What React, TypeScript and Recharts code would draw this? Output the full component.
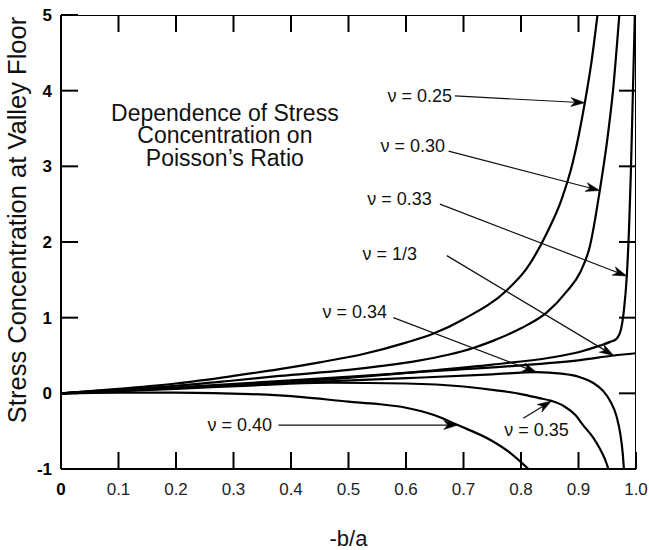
import React from 'react';
import { LineChart, Line, XAxis, YAxis, ReferenceLine, ReferenceDot } from 'recharts';

type Pt = { x: number; y: number };
const toPts = (rows: number[][]): Pt[] => rows.map(([x, y]) => ({ x, y }));

const FONT = '"Liberation Sans", Arial, Helvetica, sans-serif';

// Axis ticks and ranges
const xTicks = [0, 0.1, 0.2, 0.3, 0.4, 0.5, 0.6, 0.7, 0.8, 0.9, 1.0];
const yTicks = [-1, 0, 1, 2, 3, 4, 5];
const xMin = 0;
const xMax = 1.0;
const yMin = -1;
const yMax = 5;

// Stress concentration vs -b/a, one curve per Poisson's ratio
const nu025 = toPts([
  [0, 0], [0.1, 0.06], [0.2, 0.13], [0.3, 0.23], [0.38, 0.32], [0.45, 0.41],
  [0.526, 0.52], [0.6, 0.67], [0.648, 0.79], [0.7, 0.98], [0.775, 1.36],
  [0.81, 1.65], [0.845, 2.12], [0.87, 2.55], [0.89, 3.05], [0.911, 3.84],
  [0.922, 4.35], [0.933, 5.0],
]);

const nu030 = toPts([
  [0, 0], [0.1, 0.05], [0.2, 0.1], [0.3, 0.17], [0.38, 0.23], [0.5, 0.31],
  [0.555, 0.36], [0.62, 0.43], [0.717, 0.6], [0.75, 0.69], [0.8, 0.86],
  [0.845, 1.07], [0.88, 1.35], [0.903, 1.6], [0.92, 1.95], [0.937, 2.68],
  [0.95, 3.35], [0.96, 4.0], [0.971, 5.0],
]);

const nu033 = toPts([
  [0, 0], [0.2, 0.07], [0.4, 0.15], [0.6, 0.27], [0.75, 0.38], [0.85, 0.47],
  [0.903, 0.55], [0.937, 0.63], [0.955, 0.68], [0.966, 0.72], [0.974, 0.85],
  [0.979, 1.1], [0.984, 1.55], [0.988, 2.2], [0.991, 2.9], [0.994, 3.8],
  [0.998, 5.0],
]);

const nuThird = toPts([
  [0, 0], [0.2, 0.08], [0.4, 0.17], [0.6, 0.27], [0.8, 0.37], [0.903, 0.44],
  [0.961, 0.5], [1.0, 0.53],
]);

const nu034 = toPts([
  [0, 0], [0.2, 0.07], [0.4, 0.14], [0.6, 0.2], [0.75, 0.25], [0.827, 0.28],
  [0.87, 0.26], [0.9, 0.22], [0.925, 0.14], [0.943, 0.03], [0.955, -0.1],
  [0.966, -0.3], [0.973, -0.55], [0.977, -0.8], [0.979, -1.0],
]);

const nu035 = toPts([
  [0, 0], [0.2, 0.06], [0.35, 0.11], [0.468, 0.14], [0.6, 0.13], [0.7, 0.09],
  [0.757, 0.04], [0.8, -0.01], [0.83, -0.06], [0.853, -0.1], [0.875, -0.17],
  [0.895, -0.29], [0.908, -0.42], [0.925, -0.58], [0.937, -0.73],
  [0.946, -0.87], [0.952, -1.0],
]);

const nu040 = toPts([
  [0, 0], [0.1, 0.01], [0.2, 0.01], [0.33, -0.01], [0.42, -0.05], [0.5, -0.11],
  [0.55, -0.14], [0.6, -0.19], [0.65, -0.29], [0.69, -0.42], [0.75, -0.63],
  [0.78, -0.78], [0.813, -1.0],
]);

const curves = [nu025, nu030, nu033, nuThird, nu034, nu035, nu040];

// Callouts: label text, label anchor, arrow start and arrow tip (data units)
type Callout = {
  text: string;
  at: [number, number];
  anchor: 'end' | 'middle';
  from: [number, number];
  to: [number, number];
};

const callouts: Callout[] = [
  { text: 'ν = 0.25', at: [0.68, 3.93], anchor: 'end', from: [0.685, 3.93], to: [0.911, 3.84] },
  { text: 'ν = 0.30', at: [0.668, 3.27], anchor: 'end', from: [0.674, 3.2], to: [0.937, 2.68] },
  { text: 'ν = 0.33', at: [0.645, 2.57], anchor: 'end', from: [0.659, 2.5], to: [0.984, 1.55] },
  { text: 'ν = 1/3', at: [0.619, 1.84], anchor: 'end', from: [0.671, 1.82], to: [0.961, 0.5] },
  { text: 'ν = 0.34', at: [0.567, 1.07], anchor: 'end', from: [0.578, 1.0], to: [0.827, 0.28] },
  { text: 'ν = 0.35', at: [0.827, -0.49], anchor: 'middle', from: [0.804, -0.33], to: [0.853, -0.1] },
  { text: 'ν = 0.40', at: [0.367, -0.42], anchor: 'end', from: [0.378, -0.42], to: [0.69, -0.42] },
];

const titleLines = ['Dependence of Stress', 'Concentration on', 'Poisson’s Ratio'];
const titleAt: [number, number] = [0.285, 3.6];

// Tick length in pixels, and the plot size used to express it in axis units
const TICK_LEN = 17;
const PLOT_W = 575;
const PLOT_H = 454;
const tickDy = (TICK_LEN / PLOT_H) * (yMax - yMin);
const tickDx = (TICK_LEN / PLOT_W) * (xMax - xMin);

// Top and right edges of the frame, plus their inward ticks
const frameEdge: Pt[] = [
  { x: xMin, y: yMax },
  { x: xMax, y: yMax },
  { x: xMax, y: yMin },
];
const topTickMarks: Pt[][] = xTicks.slice(1, -1).map((t) => [
  { x: t, y: yMax },
  { x: t, y: yMax - tickDy },
]);
const rightTickMarks: Pt[][] = yTicks.slice(1, -1).map((t) => [
  { x: xMax, y: t },
  { x: xMax - tickDx, y: t },
]);

const XTick = (props: any) => {
  const { x, y, payload } = props;
  const v = payload.value as number;
  const label = v === 0 ? '0' : v.toFixed(1);
  return (
    <text
      x={x}
      y={y}
      dy="0.71em"
      textAnchor="middle"
      fontFamily={FONT}
      fontSize={17}
      fontWeight={v === 0 ? 'bold' : 'normal'}
      fill={v === 0 ? '#000' : '#222'}
    >
      {label}
    </text>
  );
};

const YTick = (props: any) => {
  const { x, y, payload } = props;
  return (
    <text
      x={x}
      y={y}
      dy="0.36em"
      textAnchor="end"
      fontFamily={FONT}
      fontSize={17}
      fontWeight="bold"
      fill="#000"
    >
      {String(payload.value)}
    </text>
  );
};

const YTitle = (props: any) => {
  const vb = props.viewBox || { x: 0, y: 0, width: 0, height: 0 };
  const cx = vb.x + 17;
  const cy = vb.y + vb.height / 2 - 22;
  return (
    <text
      x={cx}
      y={cy}
      transform={`rotate(-90, ${cx}, ${cy})`}
      textAnchor="middle"
      dominantBaseline="central"
      fontFamily={FONT}
      fontSize={25.5}
      fill="#111"
    >
      Stress Concentration at Valley Floor
    </text>
  );
};

const XTitle = (props: any) => {
  const vb = props.viewBox || { x: 0, y: 0, width: 0, height: 0 };
  const cx = vb.x + vb.width / 2;
  return (
    <text
      x={cx}
      y={vb.y + 69}
      textAnchor="middle"
      dominantBaseline="central"
      fontFamily={FONT}
      fontSize={22}
      fill="#111"
    >
      -b/a
    </text>
  );
};

const arrowShape = (p: any) => {
  const { x1, y1, x2, y2 } = p;
  const dx = x2 - x1;
  const dy = y2 - y1;
  const len = Math.sqrt(dx * dx + dy * dy) || 1;
  const ux = dx / len;
  const uy = dy / len;
  const nx = -uy;
  const ny = ux;
  const L = 14;
  const W = 4.5;
  const notch = 10;
  const bx = x2 - L * ux;
  const by = y2 - L * uy;
  const mx = x2 - notch * ux;
  const my = y2 - notch * uy;
  const head = `M${x2},${y2} L${bx + W * nx},${by + W * ny} L${mx},${my} L${bx - W * nx},${by - W * ny} Z`;
  return (
    <g>
      <line x1={x1} y1={y1} x2={mx} y2={my} stroke="#111" strokeWidth={1.2} />
      <path d={head} fill="#000" stroke="#000" strokeWidth={0.5} strokeLinejoin="miter" />
    </g>
  );
};

const calloutText = (text: string, anchor: 'end' | 'middle') => (p: any) => (
  <text
    x={p.cx}
    y={p.cy}
    textAnchor={anchor}
    dominantBaseline="central"
    fontFamily={FONT}
    fontSize={18}
    fill="#111"
  >
    {text}
  </text>
);

const titleShape = (p: any) => (
  <text x={p.cx} y={p.cy} textAnchor="middle" fontFamily={FONT} fontSize={23} fill="#111">
    {titleLines.map((line, i) => (
      <tspan key={i} x={p.cx} dy={i === 0 ? 0 : 22.4}>
        {line}
      </tspan>
    ))}
  </text>
);

const axisStroke = { stroke: '#000', strokeWidth: 2 };

export default function App() {
  return (
    <div style={{ position: 'absolute', left: 0, top: 0, width: 649, height: 550, background: '#fff' }}>
      <LineChart
        width={649}
        height={550}
        margin={{ top: 15, right: 13, bottom: 41, left: 0 }}
      >
        <XAxis
          dataKey="x"
          type="number"
          domain={[xMin, xMax]}
          ticks={xTicks}
          interval={0}
          height={40}
          tickSize={-TICK_LEN}
          tickMargin={31}
          axisLine={axisStroke}
          tickLine={axisStroke}
          tick={<XTick />}
          label={<XTitle />}
          allowDataOverflow
        />
        <YAxis
          type="number"
          domain={[yMin, yMax]}
          ticks={yTicks}
          interval={0}
          width={61}
          tickSize={-TICK_LEN}
          tickMargin={26}
          axisLine={axisStroke}
          tickLine={axisStroke}
          tick={<YTick />}
          label={<YTitle />}
          allowDataOverflow
        />
        {/* frame: top and right edges with inward ticks */}
        <Line
          data={frameEdge}
          dataKey="y"
          type="linear"
          stroke="#000"
          strokeWidth={2}
          strokeLinecap="square"
          dot={false}
          activeDot={false}
          isAnimationActive={false}
        />
        {topTickMarks.concat(rightTickMarks).map((seg, i) => (
          <Line
            key={`tick${i}`}
            data={seg}
            dataKey="y"
            type="linear"
            stroke="#000"
            strokeWidth={2}
            dot={false}
            activeDot={false}
            isAnimationActive={false}
          />
        ))}
        {curves.map((data, i) => (
          <Line
            key={i}
            data={data}
            dataKey="y"
            type="monotone"
            stroke="#000"
            strokeWidth={2.2}
            dot={false}
            activeDot={false}
            isAnimationActive={false}
          />
        ))}
        {callouts.map((c, i) => (
          <ReferenceLine
            key={`a${i}`}
            segment={[
              { x: c.from[0], y: c.from[1] },
              { x: c.to[0], y: c.to[1] },
            ]}
            shape={arrowShape}
          />
        ))}
        {callouts.map((c, i) => (
          <ReferenceDot
            key={`t${i}`}
            x={c.at[0]}
            y={c.at[1]}
            r={0}
            shape={calloutText(c.text, c.anchor)}
          />
        ))}
        <ReferenceDot x={titleAt[0]} y={titleAt[1]} r={0} shape={titleShape} />
      </LineChart>
    </div>
  );
}
